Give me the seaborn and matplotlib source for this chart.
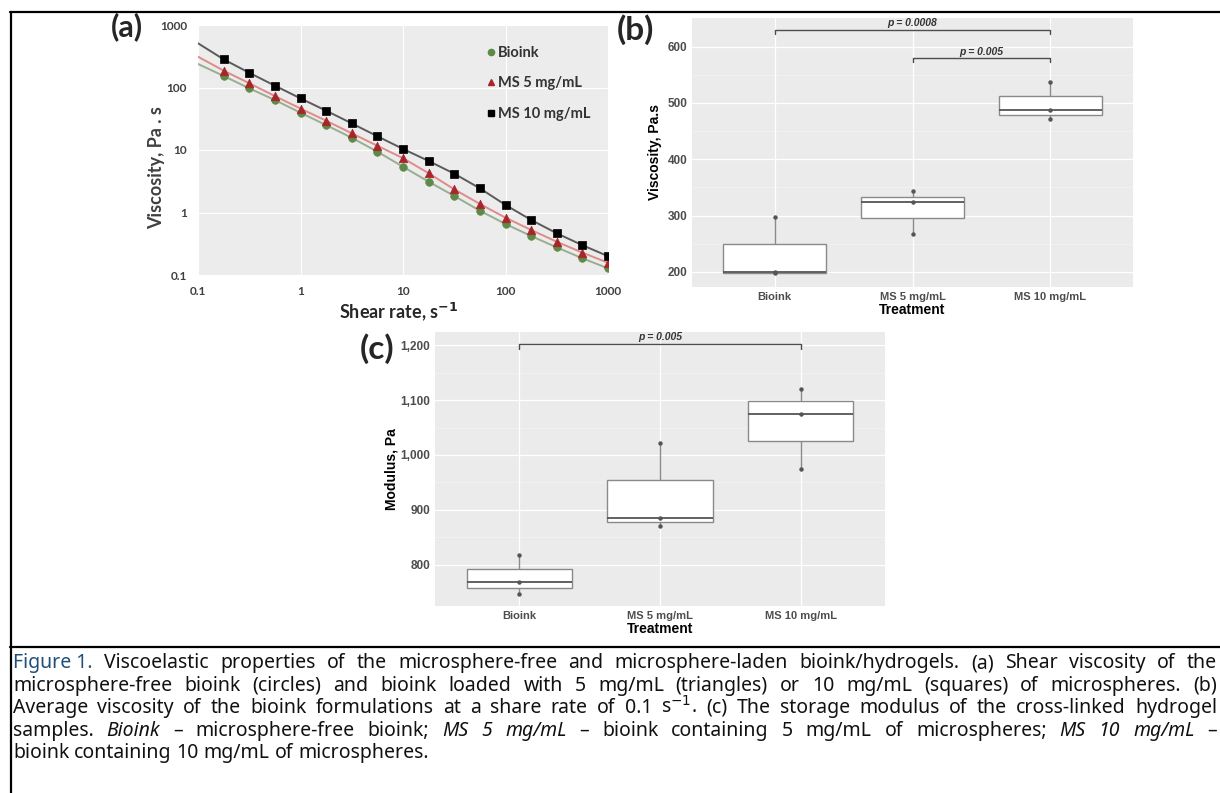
import numpy as np
import pandas as pd
import matplotlib
matplotlib.use("Agg")
import matplotlib.pyplot as plt
import seaborn as sns
from matplotlib.lines import Line2D
from matplotlib.ticker import FixedLocator, NullLocator

# ---------------- data ----------------
# (a) shear viscosity curves
shear_rate = [0.178, 0.316, 0.562, 1.0, 1.78, 3.16, 5.62, 10.0,
              17.8, 31.6, 56.2, 100, 178, 316, 562, 1000]
visc_bioink = [153, 97, 63, 39.5, 25, 15.7, 9.4, 5.4,
               3.11, 1.84, 1.07, 0.655, 0.42, 0.277, 0.185, 0.128]
visc_ms5 = [186, 117, 73, 46, 29.4, 18.5, 11.7, 7.4,
            4.24, 2.35, 1.37, 0.826, 0.525, 0.341, 0.228, 0.157]
visc_ms10 = [282, 172, 107, 67, 42.5, 26.7, 16.6, 10.4,
             6.67, 4.18, 2.44, 1.32, 0.76, 0.465, 0.30, 0.20]
# trend lines start at the left edge (0.1 s-1)
line_start_rate = 0.1
line_start = {"Bioink": 238, "MS 5 mg/mL": 311, "MS 10 mg/mL": 510}

# (b) viscosity at 0.1 s-1, three replicates per group
groups = ["Bioink", "MS 5 mg/mL", "MS 10 mg/mL"]
visc_b_bioink = [197, 200, 298]
visc_b_ms5 = [267, 324, 343]
visc_b_ms10 = [471, 488, 537]
# (c) storage modulus
mod_bioink = [747, 768, 818]
mod_ms5 = [870, 886, 1022]
mod_ms10 = [975, 1075, 1120]

# significance brackets: (group from, group to, height, label)
brackets_b = [(0, 2, 630, "p = 0.0008"), (1, 2, 580, "p = 0.005")]
brackets_c = [(0, 2, 1203, "p = 0.005")]

# ---------------- style ----------------
sns.set_style("white")
plt.rcParams["font.family"] = ["Liberation Sans", "DejaVu Sans"]
calibri = ["Lato", "DejaVu Sans"]
cap_family = ["Noto Sans", "Lato", "DejaVu Sans"]

W, H = 1220, 793
fig = plt.figure(figsize=(W / 100, H / 100), dpi=100)


def px_axes(x0, y0, x1, y1):
    return fig.add_axes([x0 / W, 1 - y1 / H, (x1 - x0) / W, (y1 - y0) / H])


# ==========================================
# (a) viscosity vs shear rate
# ==========================================
ax_a = px_axes(198, 25, 608, 275)
ax_a.set_facecolor("#ECECEC")
ax_a.set(xscale="log", yscale="log")

series = [
    ("Bioink", visc_bioink, "#5E8A47", "o", "#97AE90", 30),
    ("MS 5 mg/mL", visc_ms5, "#A6262A", "^", "#E08A8A", 38),
    ("MS 10 mg/mL", visc_ms10, "#000000", "s", "#5A5A5A", 32),
]
for name, vals, mcol, mk, lcol, size in series:
    lx = [line_start_rate] + shear_rate
    ly = [line_start[name]] + vals
    sns.lineplot(x=lx, y=ly, ax=ax_a, color=lcol, linewidth=1.4, sort=False)
for name, vals, mcol, mk, lcol, size in series:
    sns.scatterplot(x=shear_rate, y=vals, ax=ax_a, color=mcol, marker=mk,
                    s=size, edgecolor=mcol, linewidth=0.5, zorder=3)

ax_a.set_xlim(0.1, 1000)
ax_a.set_ylim(0.1, 1000)
decades = [0.1, 1, 10, 100, 1000]
dec_labels = ["0.1", "1", "10", "100", "1000"]
ax_a.xaxis.set_major_locator(FixedLocator(decades))
ax_a.yaxis.set_major_locator(FixedLocator(decades))
ax_a.xaxis.set_minor_locator(NullLocator())
ax_a.yaxis.set_minor_locator(NullLocator())
ax_a.set_xticklabels(dec_labels, family=calibri, fontsize=8.5, color="#404040", fontweight="bold")
ax_a.set_yticklabels(dec_labels, family=calibri, fontsize=8.5, color="#404040", fontweight="bold")
ax_a.tick_params(length=0, pad=8)
ax_a.grid(True, color="white", linewidth=0.8)
for s in ax_a.spines.values():
    s.set_visible(False)
ax_a.set_xlabel(r"Shear rate, s$^{\mathbf{-1}}$", family=calibri, fontsize=13,
                fontweight="bold", color="#262626")
ax_a.xaxis.set_label_coords(0.49, -0.10)
ax_a.set_ylabel("Viscosity, Pa . s", family=calibri, fontsize=13, fontweight="bold",
                color="#404040")
ax_a.yaxis.set_label_coords(-0.08, 0.43)

handles = [Line2D([], [], linestyle="none", marker=mk, color=mcol, markersize=4.5, label=name)
           for name, vals, mcol, mk, lcol, size in series]
leg = ax_a.legend(handles=handles, loc="upper left", bbox_to_anchor=(0.665, 0.97),
                  frameon=False, handletextpad=0.0, handlelength=1.0, labelspacing=1.15,
                  prop={"family": calibri, "weight": "bold", "size": 10.5})
for t in leg.get_texts():
    t.set_color("#333333")

fig.text(127 / W, 1 - 27 / H, "(a)", family=calibri, fontsize=22, fontweight="bold",
         ha="center", va="center")


# ==========================================
# (b) and (c) boxplots
# ==========================================
def box_panel(ax, values, brackets, ylim, ticks, tick_labels, ylabel, tick_h):
    df = pd.DataFrame({
        "Treatment": np.repeat(groups, [len(v) for v in values]),
        "value": np.concatenate(values),
    })
    ax.set_facecolor("#EBEBEB")
    ax.set_axisbelow(True)
    minor = [(a + b) / 2 for a, b in zip(ticks[:-1], ticks[1:])]
    for t in ticks:
        ax.axhline(t, color="white", linewidth=0.9, zorder=0)
    for t in minor:
        ax.axhline(t, color="#F5F5F5", linewidth=0.5, zorder=0)
    for i in range(len(groups)):
        ax.axvline(i, color="white", linewidth=0.9, zorder=0)
    sns.boxplot(data=df, x="Treatment", y="value", order=groups, width=0.75,
                color="white", linecolor="#8A8A8A", linewidth=1.0, whis=(0, 100),
                showfliers=False, showcaps=False, ax=ax,
                medianprops={"color": "#555555", "linewidth": 1.3})
    sns.stripplot(data=df, x="Treatment", y="value", order=groups, jitter=False,
                  color="#555555", size=3.2, ax=ax, zorder=4)
    for g0, g1, yv, lab in brackets:
        ax.plot([g0, g0, g1, g1], [yv - tick_h, yv, yv, yv - tick_h],
                color="#4D4D4D", linewidth=1.0)
        ax.text((g0 + g1) / 2, yv + tick_h * 0.3, lab, ha="center", va="bottom",
                fontsize=7.5, fontstyle="italic", fontweight="bold", color="#333333")
    ax.set_xlim(-0.6, 2.6)
    ax.set_ylim(*ylim)
    ax.set_yticks(ticks)
    ax.set_yticklabels(tick_labels, fontsize=8.5, fontweight="bold", color="#4D4D4D")
    ax.set_xticks(range(len(groups)))
    ax.set_xticklabels(groups, fontsize=8, fontweight="bold", color="#4D4D4D")
    ax.tick_params(length=2.5, color="#4D4D4D", pad=1, width=0.6)
    ax.set_xlabel("Treatment", fontsize=10, fontweight="bold", color="black", labelpad=0.5)
    ax.set_ylabel(ylabel, fontsize=10, fontweight="bold", color="black", labelpad=4)
    for s in ax.spines.values():
        s.set_visible(False)


ax_b = px_axes(692, 18, 1133, 287)
b_ticks = [200, 300, 400, 500, 600]
box_panel(ax_b, [visc_b_bioink, visc_b_ms5, visc_b_ms10], brackets_b, (173, 651),
          b_ticks, [str(t) for t in b_ticks], "Viscosity, Pa.s", 8)
fig.text(635 / W, 1 - 30 / H, "(b)", family=calibri, fontsize=24, fontweight="bold",
         ha="center", va="center")

ax_c = px_axes(435, 332, 885, 606)
c_ticks = [800, 900, 1000, 1100, 1200]
box_panel(ax_c, [mod_bioink, mod_ms5, mod_ms10], brackets_c, (725, 1224),
          c_ticks, [f"{t:,}" for t in c_ticks], "Modulus, Pa", 10)
ax_c.yaxis.set_label_coords(-0.08, 0.5)
fig.text(377 / W, 1 - 349 / H, "(c)", family=calibri, fontsize=24, fontweight="bold",
         ha="center", va="center")

# ==========================================
# frame lines
# ==========================================
for (x0, y0, x1, y1, lw) in [(10, 12, 1220, 12, 1.6), (11, 12, 11, 793, 1.6),
                             (10, 647, 1220, 647, 1.6)]:
    fig.add_artist(Line2D([x0 / W, x1 / W], [1 - y0 / H, 1 - y1 / H],
                          transform=fig.transFigure, color="black", linewidth=lw))

# ==========================================
# caption (justified word by word)
# ==========================================
BLUE = "#1F4E79"
INK = "#111111"
caption = [
    [("Figure 1.", "normal", BLUE)] + [(w, "normal", INK) for w in
     "Viscoelastic properties of the microsphere-free and microsphere-laden bioink/hydrogels. (a) Shear viscosity of the".split()],
    [(w, "normal", INK) for w in
     "microsphere-free bioink (circles) and bioink loaded with 5 mg/mL (triangles) or 10 mg/mL (squares) of microspheres. (b)".split()],
    [(w, "normal", INK) for w in
     "Average viscosity of the bioink formulations at a share rate of 0.1".split()]
    + [(r"s$^{-1}$.", "normal", INK)]
    + [(w, "normal", INK) for w in
       "(c) The storage modulus of the cross-linked hydrogel".split()],
    [("samples.", "normal", INK), ("Bioink", "italic", INK), ("–", "normal", INK)]
    + [(w, "normal", INK) for w in "microsphere-free bioink;".split()]
    + [(w, "italic", INK) for w in "MS 5 mg/mL".split()]
    + [(w, "normal", INK) for w in "– bioink containing 5 mg/mL of microspheres;".split()]
    + [(w, "italic", INK) for w in "MS 10 mg/mL".split()]
    + [("–", "normal", INK)],
    [(w, "normal", INK) for w in "bioink containing 10 mg/mL of microspheres.".split()],
]
cap_x0, cap_x1 = 13, 1217
baselines = [668, 691, 713, 736, 758]
fig.canvas.draw()
renderer = fig.canvas.get_renderer()

# font size so that line 2 fills the width with ordinary spaces, capped to keep
# the line height close to the original
probe = fig.text(0, 0, " ".join(w for w, _, _ in caption[1]), fontsize=12, family=cap_family)
probe_w = probe.get_window_extent(renderer).width
probe.remove()
cap_size = min(12 * (cap_x1 - cap_x0 - 8) / probe_w, 14.0)

for li, (words, yb) in enumerate(zip(caption, baselines)):
    texts = []
    for w, st, col in words:
        t = fig.text(0, 1 - yb / H, w, fontsize=cap_size, fontstyle=st, family=cap_family,
                     color=col, ha="left", va="baseline")
        texts.append(t)
    widths = [t.get_window_extent(renderer).width for t in texts]
    if li < len(caption) - 1:
        gap = (cap_x1 - cap_x0 - sum(widths)) / (len(widths) - 1)
    else:
        gap = cap_size * 100 / 72 * 0.25
    x = cap_x0
    for t, w in zip(texts, widths):
        t.set_x(x / W)
        x += w + gap

fig.savefig("out.png", dpi=100)
